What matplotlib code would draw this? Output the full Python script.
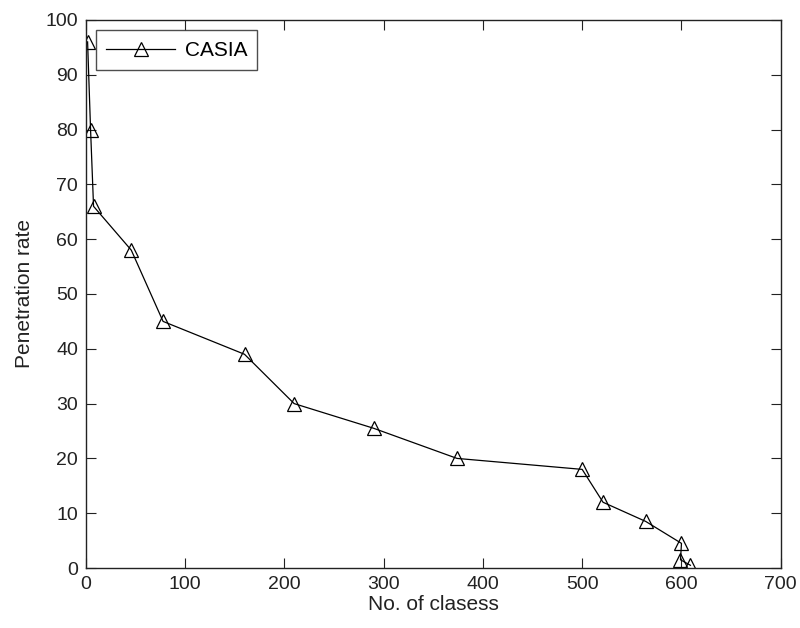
import matplotlib
matplotlib.use("Agg")
import matplotlib.pyplot as plt

plt.rcParams['font.family'] = ['Liberation Sans', 'DejaVu Sans']

classes = [2, 5, 8, 46, 78, 160, 210, 290, 374, 500, 521, 564, 600, 599, 609]
penetration = [96, 80, 66, 58, 45, 39, 30, 25.5, 20, 18, 12, 8.5, 4.5, 1.5, 0.5]
series_name = "CASIA"
x_ticks = [0, 100, 200, 300, 400, 500, 600, 700]
y_ticks = [0, 10, 20, 30, 40, 50, 60, 70, 80, 90, 100]

fig = plt.figure(figsize=(8, 6.28), dpi=100)
ax = fig.add_axes([0.107, 0.0955, 0.869, 0.8727])
ax.plot(classes, penetration, color='black', linewidth=0.9, marker='^',
        markersize=10, markerfacecolor='none', markeredgecolor='black',
        markeredgewidth=0.9, label=series_name)
ax.set_xlim(0, 700)
ax.set_ylim(0, 100)
ax.set_xticks(x_ticks)
ax.set_yticks(y_ticks)
ax.tick_params(direction='in', top=True, right=True, labelsize=14, length=7,
               pad=5.5, colors='#222222')
for s in ax.spines.values():
    s.set_linewidth(1.0)
    s.set_color('#222222')
ax.set_xlabel("No. of clasess", fontsize=15, labelpad=2, color='#222222')
ax.set_ylabel("Penetration rate", fontsize=15, labelpad=8, color='#222222')
leg = ax.legend(loc='upper left', fontsize=15, frameon=True, fancybox=False,
                edgecolor='#222222', borderaxespad=0.5, handlelength=3.3,
                handletextpad=0.45, borderpad=0.5)
leg.get_frame().set_linewidth(1.0)
fig.savefig("out.png", dpi=100)
